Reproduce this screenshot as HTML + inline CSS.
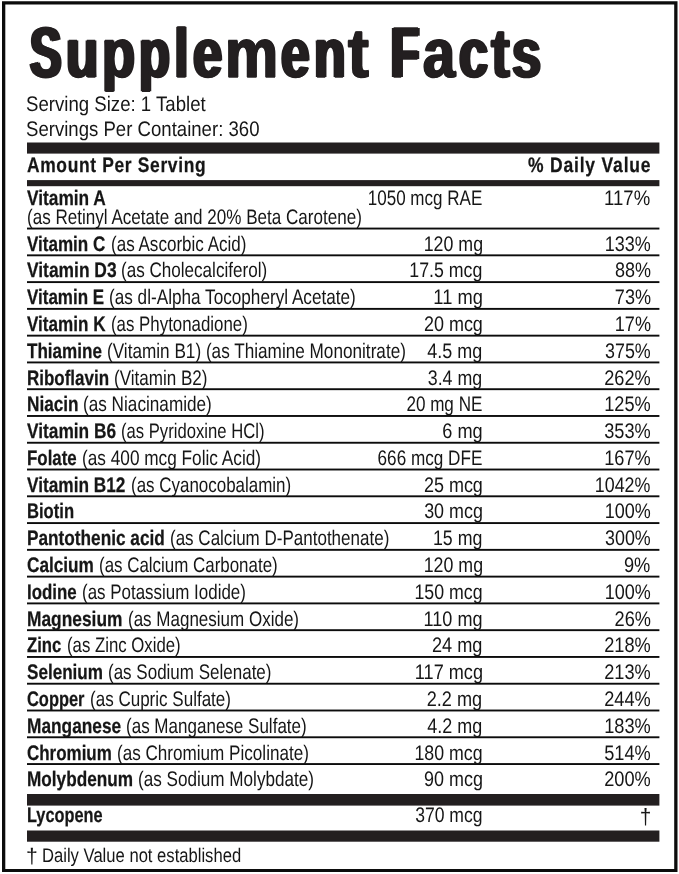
<!DOCTYPE html>
<html lang="en"><head><meta charset="utf-8"><title>Supplement Facts</title>
<style>
html,body{margin:0;padding:0;background:#fff;}
body{width:679px;height:874px;position:relative;overflow:hidden;font-family:"Liberation Sans",sans-serif;color:#161616;}
.rules{position:absolute;left:0;top:0;display:block;}
.t{position:absolute;white-space:nowrap;display:block;text-rendering:geometricPrecision;}
h1,p,section,div.row,footer{margin:0;padding:0;font:inherit;}
.wrap{position:absolute;left:0;top:0;width:679px;height:874px;will-change:transform;}
</style></head><body>
<svg class="rules" width="679" height="874" viewBox="0 0 679 874">
<path fill="#0c0c0c" fill-rule="evenodd" d="M2.0 1.2H677.5V872.0H2.0Z M5.3 4.5V868.9H674.2V4.5Z"/>
<g fill="#231f20">
<rect x="27.00" y="142.50" width="632.40" height="11.10"/>
<rect x="27.00" y="180.10" width="632.40" height="6.10"/>
<rect x="27.00" y="227.60" width="632.40" height="1.90" fill="#0c0c0c"/>
<rect x="27.00" y="254.38" width="632.40" height="1.90" fill="#0c0c0c"/>
<rect x="27.00" y="281.15" width="632.40" height="1.90" fill="#0c0c0c"/>
<rect x="27.00" y="307.93" width="632.40" height="1.90" fill="#0c0c0c"/>
<rect x="27.00" y="334.70" width="632.40" height="1.90" fill="#0c0c0c"/>
<rect x="27.00" y="361.48" width="632.40" height="1.90" fill="#0c0c0c"/>
<rect x="27.00" y="388.25" width="632.40" height="1.90" fill="#0c0c0c"/>
<rect x="27.00" y="415.03" width="632.40" height="1.90" fill="#0c0c0c"/>
<rect x="27.00" y="441.80" width="632.40" height="1.90" fill="#0c0c0c"/>
<rect x="27.00" y="468.57" width="632.40" height="1.90" fill="#0c0c0c"/>
<rect x="27.00" y="495.35" width="632.40" height="1.90" fill="#0c0c0c"/>
<rect x="27.00" y="522.12" width="632.40" height="1.90" fill="#0c0c0c"/>
<rect x="27.00" y="548.90" width="632.40" height="1.90" fill="#0c0c0c"/>
<rect x="27.00" y="575.67" width="632.40" height="1.90" fill="#0c0c0c"/>
<rect x="27.00" y="602.45" width="632.40" height="1.90" fill="#0c0c0c"/>
<rect x="27.00" y="629.22" width="632.40" height="1.90" fill="#0c0c0c"/>
<rect x="27.00" y="656.00" width="632.40" height="1.90" fill="#0c0c0c"/>
<rect x="27.00" y="682.77" width="632.40" height="1.90" fill="#0c0c0c"/>
<rect x="27.00" y="709.55" width="632.40" height="1.90" fill="#0c0c0c"/>
<rect x="27.00" y="736.32" width="632.40" height="1.90" fill="#0c0c0c"/>
<rect x="27.00" y="763.10" width="632.40" height="1.90" fill="#0c0c0c"/>
<rect x="27.00" y="794.00" width="632.40" height="11.60"/>
<rect x="27.00" y="830.50" width="632.40" height="11.20"/>
</g></svg>
<div class="wrap">
<h1 class="title"><span class="t" style="top:18.00px;font-size:71.4px;line-height:71.4px;font-weight:700;-webkit-text-stroke:1.4px;color:#231f20;text-shadow:3.06px 0 0 currentColor,-3.06px 0 0 currentColor;left:30.06px;transform-origin:0 0;transform:scaleX(0.6605);">S</span><span class="t" style="top:19.00px;font-size:69.2px;line-height:69.2px;font-weight:700;-webkit-text-stroke:1.4px;color:#231f20;text-shadow:2.13px 0 0 currentColor,-2.13px 0 0 currentColor;left:66.35px;transform-origin:0 0;transform:scaleX(0.7645);">u</span><span class="t" style="top:19.00px;font-size:69.2px;line-height:69.2px;font-weight:700;-webkit-text-stroke:1.4px;color:#231f20;text-shadow:1.89px 0 0 currentColor,-1.89px 0 0 currentColor;left:102.31px;transform-origin:0 0;transform:scaleX(0.7840);">p</span><span class="t" style="top:19.00px;font-size:69.2px;line-height:69.2px;font-weight:700;-webkit-text-stroke:1.4px;color:#231f20;text-shadow:2.36px 0 0 currentColor,-2.36px 0 0 currentColor;left:139.19px;transform-origin:0 0;transform:scaleX(0.7326);">p</span><span class="t" style="top:19.00px;font-size:69.2px;line-height:69.2px;font-weight:700;-webkit-text-stroke:1.4px;color:#231f20;text-shadow:2.0px 0 0 currentColor,-2.0px 0 0 currentColor;left:174.32px;transform-origin:0 0;transform:scaleX(0.7702);">l</span><span class="t" style="top:19.00px;font-size:69.2px;line-height:69.2px;font-weight:700;-webkit-text-stroke:1.4px;color:#231f20;text-shadow:2.16px 0 0 currentColor,-2.16px 0 0 currentColor;left:192.79px;transform-origin:0 0;transform:scaleX(0.7605);">e</span><span class="t" style="top:19.00px;font-size:69.2px;line-height:69.2px;font-weight:700;-webkit-text-stroke:1.4px;color:#231f20;text-shadow:1.17px 0 0 currentColor,-1.17px 0 0 currentColor;left:225.07px;transform-origin:0 0;transform:scaleX(0.8633);">m</span><span class="t" style="top:19.00px;font-size:69.2px;line-height:69.2px;font-weight:700;-webkit-text-stroke:1.4px;color:#231f20;text-shadow:2.32px 0 0 currentColor,-2.32px 0 0 currentColor;left:281.42px;transform-origin:0 0;transform:scaleX(0.7436);">e</span><span class="t" style="top:19.00px;font-size:69.2px;line-height:69.2px;font-weight:700;-webkit-text-stroke:1.4px;color:#231f20;text-shadow:2.28px 0 0 currentColor,-2.28px 0 0 currentColor;left:314.39px;transform-origin:0 0;transform:scaleX(0.7479);">n</span><span class="t" style="top:19.00px;font-size:69.2px;line-height:69.2px;font-weight:700;-webkit-text-stroke:1.4px;color:#231f20;text-shadow:1.03px 0 0 currentColor,-1.03px 0 0 currentColor;left:347.77px;transform-origin:0 0;transform:scaleX(0.9010);">t</span> <span class="t" style="top:18.00px;font-size:71.4px;line-height:71.4px;font-weight:700;-webkit-text-stroke:1.4px;color:#231f20;text-shadow:3.61px 0 0 currentColor,-3.61px 0 0 currentColor;left:390.55px;transform-origin:0 0;transform:scaleX(0.6469);">F</span><span class="t" style="top:19.00px;font-size:69.2px;line-height:69.2px;font-weight:700;-webkit-text-stroke:1.4px;color:#231f20;text-shadow:1.57px 0 0 currentColor,-1.57px 0 0 currentColor;left:422.82px;transform-origin:0 0;transform:scaleX(0.8317);">a</span><span class="t" style="top:19.00px;font-size:69.2px;line-height:69.2px;font-weight:700;-webkit-text-stroke:1.4px;color:#231f20;text-shadow:2.22px 0 0 currentColor,-2.22px 0 0 currentColor;left:458.64px;transform-origin:0 0;transform:scaleX(0.7540);">c</span><span class="t" style="top:19.00px;font-size:69.2px;line-height:69.2px;font-weight:700;-webkit-text-stroke:1.4px;color:#231f20;text-shadow:1.63px 0 0 currentColor,-1.63px 0 0 currentColor;left:490.74px;transform-origin:0 0;transform:scaleX(0.8165);">t</span><span class="t" style="top:19.00px;font-size:69.2px;line-height:69.2px;font-weight:700;-webkit-text-stroke:1.4px;color:#231f20;text-shadow:2.22px 0 0 currentColor,-2.22px 0 0 currentColor;left:512.44px;transform-origin:0 0;transform:scaleX(0.7543);">s</span></h1>
<p class="serving">
<span class="t" style="top:94.00px;font-size:21px;line-height:21px;left:26.45px;transform-origin:0 0;transform:scaleX(0.8863);">Serving Size: 1 Tablet</span>
<span class="t" style="top:119.00px;font-size:21px;line-height:21px;left:26.46px;transform-origin:0 0;transform:scaleX(0.8850);">Servings Per Container: 360</span>
</p>
<div class="row head">
<span class="t" style="top:155.00px;font-size:21px;line-height:21px;font-weight:700;letter-spacing:0.8px;-webkit-text-stroke:0.25px;left:26.87px;transform-origin:0 0;transform:scaleX(0.8288);">Amount Per Serving</span>
<span class="t" style="top:155.00px;font-size:21px;line-height:21px;font-weight:700;letter-spacing:1.0px;-webkit-text-stroke:0.25px;right:27.38px;transform-origin:100% 0;transform:scaleX(0.8319);">% Daily Value</span>
</div>
<div class="row">
<span class="t" style="top:188.00px;font-size:21px;line-height:21px;font-weight:700;-webkit-text-stroke:0.25px;left:27.15px;transform-origin:0 0;transform:scaleX(0.8234);">Vitamin A</span>
<span class="t" style="top:188.00px;font-size:21px;line-height:21px;right:196.27px;transform-origin:100% 0;transform:scaleX(0.8108);">1050 mcg RAE</span>
<span class="t" style="top:188.00px;font-size:21px;line-height:21px;right:28.44px;transform-origin:100% 0;transform:scaleX(0.8834);">117%</span>
<span class="t" style="top:207.00px;font-size:21px;line-height:21px;left:26.54px;transform-origin:0 0;transform:scaleX(0.8128);">(as Retinyl Acetate and 20% Beta Carotene)</span>
</div>
<div class="row">
<span class="t" style="top:234.00px;font-size:21px;line-height:21px;font-weight:700;-webkit-text-stroke:0.25px;left:27.15px;transform-origin:0 0;transform:scaleX(0.8118);">Vitamin C</span>
<span class="t" style="top:234.00px;font-size:21px;line-height:21px;left:110.64px;transform-origin:0 0;transform:scaleX(0.8119);">(as Ascorbic Acid)</span>
<span class="t" style="top:234.00px;font-size:21px;line-height:21px;right:196.35px;transform-origin:100% 0;transform:scaleX(0.8481);">120 mg</span>
<span class="t" style="top:234.00px;font-size:21px;line-height:21px;right:28.46px;transform-origin:100% 0;transform:scaleX(0.8565);">133%</span>
</div>
<div class="row">
<span class="t" style="top:260.00px;font-size:21px;line-height:21px;font-weight:700;-webkit-text-stroke:0.25px;left:27.15px;transform-origin:0 0;transform:scaleX(0.8282);">Vitamin D3</span>
<span class="t" style="top:260.00px;font-size:21px;line-height:21px;left:121.24px;transform-origin:0 0;transform:scaleX(0.8130);">(as Cholecalciferol)</span>
<span class="t" style="top:260.00px;font-size:21px;line-height:21px;right:196.35px;transform-origin:100% 0;transform:scaleX(0.8461);">17.5 mcg</span>
<span class="t" style="top:260.00px;font-size:21px;line-height:21px;right:28.46px;transform-origin:100% 0;transform:scaleX(0.8571);">88%</span>
</div>
<div class="row">
<span class="t" style="top:287.00px;font-size:21px;line-height:21px;font-weight:700;-webkit-text-stroke:0.25px;left:27.15px;transform-origin:0 0;transform:scaleX(0.8090);">Vitamin E</span>
<span class="t" style="top:287.00px;font-size:21px;line-height:21px;left:109.34px;transform-origin:0 0;transform:scaleX(0.8174);">(as dl-Alpha Tocopheryl Acetate)</span>
<span class="t" style="top:287.00px;font-size:21px;line-height:21px;right:196.32px;transform-origin:100% 0;transform:scaleX(0.8708);">11 mg</span>
<span class="t" style="top:287.00px;font-size:21px;line-height:21px;right:28.46px;transform-origin:100% 0;transform:scaleX(0.8606);">73%</span>
</div>
<div class="row">
<span class="t" style="top:314.00px;font-size:21px;line-height:21px;font-weight:700;-webkit-text-stroke:0.25px;left:27.15px;transform-origin:0 0;transform:scaleX(0.8138);">Vitamin K</span>
<span class="t" style="top:314.00px;font-size:21px;line-height:21px;left:110.65px;transform-origin:0 0;transform:scaleX(0.8025);">(as Phytonadione)</span>
<span class="t" style="top:314.00px;font-size:21px;line-height:21px;right:196.34px;transform-origin:100% 0;transform:scaleX(0.8561);">20 mcg</span>
<span class="t" style="top:314.00px;font-size:21px;line-height:21px;right:28.45px;transform-origin:100% 0;transform:scaleX(0.8618);">17%</span>
</div>
<div class="row">
<span class="t" style="top:341.00px;font-size:21px;line-height:21px;font-weight:700;-webkit-text-stroke:0.25px;left:27.15px;transform-origin:0 0;transform:scaleX(0.8128);">Thiamine</span>
<span class="t" style="top:341.00px;font-size:21px;line-height:21px;left:107.14px;transform-origin:0 0;transform:scaleX(0.8174);">(Vitamin B1) (as Thiamine Mononitrate)</span>
<span class="t" style="top:341.00px;font-size:21px;line-height:21px;right:196.34px;transform-origin:100% 0;transform:scaleX(0.8562);">4.5 mg</span>
<span class="t" style="top:341.00px;font-size:21px;line-height:21px;right:28.46px;transform-origin:100% 0;transform:scaleX(0.8511);">375%</span>
</div>
<div class="row">
<span class="t" style="top:368.00px;font-size:21px;line-height:21px;font-weight:700;-webkit-text-stroke:0.25px;left:27.15px;transform-origin:0 0;transform:scaleX(0.8078);">Riboflavin</span>
<span class="t" style="top:368.00px;font-size:21px;line-height:21px;left:113.84px;transform-origin:0 0;transform:scaleX(0.8121);">(Vitamin B2)</span>
<span class="t" style="top:368.00px;font-size:21px;line-height:21px;right:196.35px;transform-origin:100% 0;transform:scaleX(0.8477);">3.4 mg</span>
<span class="t" style="top:368.00px;font-size:21px;line-height:21px;right:28.45px;transform-origin:100% 0;transform:scaleX(0.8667);">262%</span>
</div>
<div class="row">
<span class="t" style="top:394.00px;font-size:21px;line-height:21px;font-weight:700;-webkit-text-stroke:0.25px;left:27.15px;transform-origin:0 0;transform:scaleX(0.8189);">Niacin</span>
<span class="t" style="top:394.00px;font-size:21px;line-height:21px;left:83.34px;transform-origin:0 0;transform:scaleX(0.8176);">(as Niacinamide)</span>
<span class="t" style="top:394.00px;font-size:21px;line-height:21px;right:196.27px;transform-origin:100% 0;transform:scaleX(0.8139);">20 mg NE</span>
<span class="t" style="top:394.00px;font-size:21px;line-height:21px;right:28.45px;transform-origin:100% 0;transform:scaleX(0.8667);">125%</span>
</div>
<div class="row">
<span class="t" style="top:421.00px;font-size:21px;line-height:21px;font-weight:700;-webkit-text-stroke:0.25px;left:27.15px;transform-origin:0 0;transform:scaleX(0.8235);">Vitamin B6</span>
<span class="t" style="top:421.00px;font-size:21px;line-height:21px;left:121.27px;transform-origin:0 0;transform:scaleX(0.7931);">(as Pyridoxine HCl)</span>
<span class="t" style="top:421.00px;font-size:21px;line-height:21px;right:196.33px;transform-origin:100% 0;transform:scaleX(0.8652);">6 mg</span>
<span class="t" style="top:421.00px;font-size:21px;line-height:21px;right:28.45px;transform-origin:100% 0;transform:scaleX(0.8667);">353%</span>
</div>
<div class="row">
<span class="t" style="top:448.00px;font-size:21px;line-height:21px;font-weight:700;-webkit-text-stroke:0.25px;left:27.15px;transform-origin:0 0;transform:scaleX(0.8041);">Folate</span>
<span class="t" style="top:448.00px;font-size:21px;line-height:21px;left:82.03px;transform-origin:0 0;transform:scaleX(0.8203);">(as 400 mcg Folic Acid)</span>
<span class="t" style="top:448.00px;font-size:21px;line-height:21px;right:196.26px;transform-origin:100% 0;transform:scaleX(0.8163);">666 mcg DFE</span>
<span class="t" style="top:448.00px;font-size:21px;line-height:21px;right:28.45px;transform-origin:100% 0;transform:scaleX(0.8667);">167%</span>
</div>
<div class="row">
<span class="t" style="top:475.00px;font-size:21px;line-height:21px;font-weight:700;-webkit-text-stroke:0.25px;left:27.15px;transform-origin:0 0;transform:scaleX(0.8215);">Vitamin B12</span>
<span class="t" style="top:475.00px;font-size:21px;line-height:21px;left:131.05px;transform-origin:0 0;transform:scaleX(0.8073);">(as Cyanocobalamin)</span>
<span class="t" style="top:475.00px;font-size:21px;line-height:21px;right:196.34px;transform-origin:100% 0;transform:scaleX(0.8561);">25 mcg</span>
<span class="t" style="top:475.00px;font-size:21px;line-height:21px;right:28.46px;transform-origin:100% 0;transform:scaleX(0.8502);">1042%</span>
</div>
<div class="row">
<span class="t" style="top:501.00px;font-size:21px;line-height:21px;font-weight:700;-webkit-text-stroke:0.25px;left:27.15px;transform-origin:0 0;transform:scaleX(0.7915);">Biotin</span>
<span class="t" style="top:501.00px;font-size:21px;line-height:21px;right:196.35px;transform-origin:100% 0;transform:scaleX(0.8528);">30 mcg</span>
<span class="t" style="top:501.00px;font-size:21px;line-height:21px;right:28.46px;transform-origin:100% 0;transform:scaleX(0.8565);">100%</span>
</div>
<div class="row">
<span class="t" style="top:528.00px;font-size:21px;line-height:21px;font-weight:700;-webkit-text-stroke:0.25px;left:27.15px;transform-origin:0 0;transform:scaleX(0.8200);">Pantothenic acid</span>
<span class="t" style="top:528.00px;font-size:21px;line-height:21px;left:170.25px;transform-origin:0 0;transform:scaleX(0.8099);">(as Calcium D-Pantothenate)</span>
<span class="t" style="top:528.00px;font-size:21px;line-height:21px;right:196.35px;transform-origin:100% 0;transform:scaleX(0.8462);">15 mg</span>
<span class="t" style="top:528.00px;font-size:21px;line-height:21px;right:28.46px;transform-origin:100% 0;transform:scaleX(0.8511);">300%</span>
</div>
<div class="row">
<span class="t" style="top:555.00px;font-size:21px;line-height:21px;font-weight:700;-webkit-text-stroke:0.25px;left:27.15px;transform-origin:0 0;transform:scaleX(0.8190);">Calcium</span>
<span class="t" style="top:555.00px;font-size:21px;line-height:21px;left:98.75px;transform-origin:0 0;transform:scaleX(0.8058);">(as Calcium Carbonate)</span>
<span class="t" style="top:555.00px;font-size:21px;line-height:21px;right:196.35px;transform-origin:100% 0;transform:scaleX(0.8481);">120 mg</span>
<span class="t" style="top:555.00px;font-size:21px;line-height:21px;right:28.45px;transform-origin:100% 0;transform:scaleX(0.8698);">9%</span>
</div>
<div class="row">
<span class="t" style="top:582.00px;font-size:21px;line-height:21px;font-weight:700;-webkit-text-stroke:0.25px;left:27.15px;transform-origin:0 0;transform:scaleX(0.8041);">Iodine</span>
<span class="t" style="top:582.00px;font-size:21px;line-height:21px;left:82.25px;transform-origin:0 0;transform:scaleX(0.8070);">(as Potassium Iodide)</span>
<span class="t" style="top:582.00px;font-size:21px;line-height:21px;right:196.36px;transform-origin:100% 0;transform:scaleX(0.8454);">150 mcg</span>
<span class="t" style="top:582.00px;font-size:21px;line-height:21px;right:28.46px;transform-origin:100% 0;transform:scaleX(0.8565);">100%</span>
</div>
<div class="row">
<span class="t" style="top:609.00px;font-size:21px;line-height:21px;font-weight:700;-webkit-text-stroke:0.25px;left:27.15px;transform-origin:0 0;transform:scaleX(0.8259);">Magnesium</span>
<span class="t" style="top:609.00px;font-size:21px;line-height:21px;left:127.65px;transform-origin:0 0;transform:scaleX(0.8095);">(as Magnesium Oxide)</span>
<span class="t" style="top:609.00px;font-size:21px;line-height:21px;right:196.34px;transform-origin:100% 0;transform:scaleX(0.8605);">110 mg</span>
<span class="t" style="top:609.00px;font-size:21px;line-height:21px;right:28.45px;transform-origin:100% 0;transform:scaleX(0.8667);">26%</span>
</div>
<div class="row">
<span class="t" style="top:635.00px;font-size:21px;line-height:21px;font-weight:700;-webkit-text-stroke:0.25px;left:27.15px;transform-origin:0 0;transform:scaleX(0.7954);">Zinc</span>
<span class="t" style="top:635.00px;font-size:21px;line-height:21px;left:66.76px;transform-origin:0 0;transform:scaleX(0.7985);">(as Zinc Oxide)</span>
<span class="t" style="top:635.00px;font-size:21px;line-height:21px;right:196.33px;transform-origin:100% 0;transform:scaleX(0.8648);">24 mg</span>
<span class="t" style="top:635.00px;font-size:21px;line-height:21px;right:28.45px;transform-origin:100% 0;transform:scaleX(0.8667);">218%</span>
</div>
<div class="row">
<span class="t" style="top:662.00px;font-size:21px;line-height:21px;font-weight:700;-webkit-text-stroke:0.25px;left:27.15px;transform-origin:0 0;transform:scaleX(0.8140);">Selenium</span>
<span class="t" style="top:662.00px;font-size:21px;line-height:21px;left:107.85px;transform-origin:0 0;transform:scaleX(0.8096);">(as Sodium Selenate)</span>
<span class="t" style="top:662.00px;font-size:21px;line-height:21px;right:196.33px;transform-origin:100% 0;transform:scaleX(0.8626);">117 mcg</span>
<span class="t" style="top:662.00px;font-size:21px;line-height:21px;right:28.45px;transform-origin:100% 0;transform:scaleX(0.8667);">213%</span>
</div>
<div class="row">
<span class="t" style="top:689.00px;font-size:21px;line-height:21px;font-weight:700;-webkit-text-stroke:0.25px;left:27.15px;transform-origin:0 0;transform:scaleX(0.7823);">Copper</span>
<span class="t" style="top:689.00px;font-size:21px;line-height:21px;left:90.04px;transform-origin:0 0;transform:scaleX(0.8108);">(as Cupric Sulfate)</span>
<span class="t" style="top:689.00px;font-size:21px;line-height:21px;right:196.33px;transform-origin:100% 0;transform:scaleX(0.8642);">2.2 mg</span>
<span class="t" style="top:689.00px;font-size:21px;line-height:21px;right:28.45px;transform-origin:100% 0;transform:scaleX(0.8667);">244%</span>
</div>
<div class="row">
<span class="t" style="top:716.00px;font-size:21px;line-height:21px;font-weight:700;-webkit-text-stroke:0.25px;left:27.15px;transform-origin:0 0;transform:scaleX(0.8231);">Manganese</span>
<span class="t" style="top:716.00px;font-size:21px;line-height:21px;left:126.34px;transform-origin:0 0;transform:scaleX(0.8105);">(as Manganese Sulfate)</span>
<span class="t" style="top:716.00px;font-size:21px;line-height:21px;right:196.34px;transform-origin:100% 0;transform:scaleX(0.8562);">4.2 mg</span>
<span class="t" style="top:716.00px;font-size:21px;line-height:21px;right:28.45px;transform-origin:100% 0;transform:scaleX(0.8667);">183%</span>
</div>
<div class="row">
<span class="t" style="top:743.00px;font-size:21px;line-height:21px;font-weight:700;-webkit-text-stroke:0.25px;left:27.15px;transform-origin:0 0;transform:scaleX(0.8076);">Chromium</span>
<span class="t" style="top:743.00px;font-size:21px;line-height:21px;left:117.04px;transform-origin:0 0;transform:scaleX(0.8141);">(as Chromium Picolinate)</span>
<span class="t" style="top:743.00px;font-size:21px;line-height:21px;right:196.36px;transform-origin:100% 0;transform:scaleX(0.8454);">180 mcg</span>
<span class="t" style="top:743.00px;font-size:21px;line-height:21px;right:28.45px;transform-origin:100% 0;transform:scaleX(0.8667);">514%</span>
</div>
<div class="row">
<span class="t" style="top:769.00px;font-size:21px;line-height:21px;font-weight:700;-webkit-text-stroke:0.25px;left:27.15px;transform-origin:0 0;transform:scaleX(0.8186);">Molybdenum</span>
<span class="t" style="top:769.00px;font-size:21px;line-height:21px;left:138.24px;transform-origin:0 0;transform:scaleX(0.8152);">(as Sodium Molybdate)</span>
<span class="t" style="top:769.00px;font-size:21px;line-height:21px;right:196.34px;transform-origin:100% 0;transform:scaleX(0.8552);">90 mcg</span>
<span class="t" style="top:769.00px;font-size:21px;line-height:21px;right:28.45px;transform-origin:100% 0;transform:scaleX(0.8667);">200%</span>
</div>
<div class="row other">
<span class="t" style="top:805.00px;font-size:21px;line-height:21px;font-weight:700;-webkit-text-stroke:0.25px;left:27.15px;transform-origin:0 0;transform:scaleX(0.7765);">Lycopene</span>
<span class="t" style="top:805.00px;font-size:21px;line-height:21px;right:196.37px;transform-origin:100% 0;transform:scaleX(0.8368);">370 mcg</span>
<span class="t" style="top:806.00px;font-size:22px;line-height:22px;right:27.41px;transform-origin:100% 0;transform:scaleX(0.9467);">†</span>
</div>
<footer class="note">
<span class="t" style="top:846.00px;font-size:21px;line-height:21px;left:26.08px;transform-origin:0 0;transform:scaleX(1.0036);">†</span>
<span class="t" style="top:847.00px;font-size:19.8px;line-height:19.8px;left:41.84px;transform-origin:0 0;transform:scaleX(0.8397);">Daily Value not established</span>
</footer>
</div>
</body></html>
